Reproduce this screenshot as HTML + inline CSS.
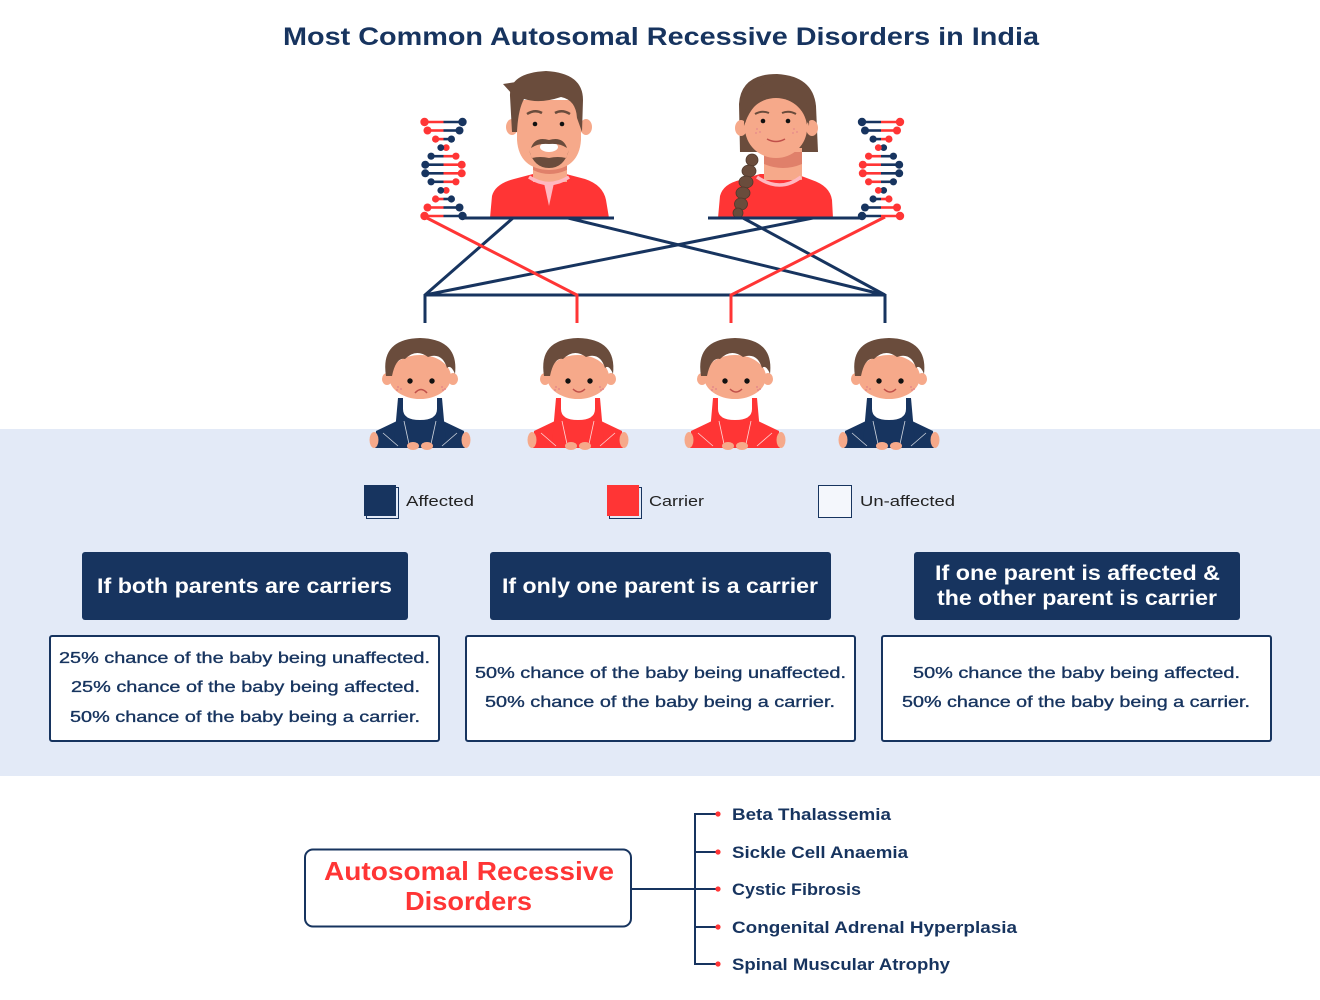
<!DOCTYPE html>
<html><head><meta charset="utf-8"><style>
html,body{margin:0;padding:0;background:#fff;}
svg{display:block;}
text{font-family:"Liberation Sans",sans-serif;}
</style></head><body>
<svg width="1320" height="1000" viewBox="0 0 1320 1000" xmlns="http://www.w3.org/2000/svg">
<defs>
<g id="babybody">
  <path d="M399,420 L376,431 L375,448 L465,448 L464,431 L441,420 Z" fill="currentColor"/>
  <path d="M398,398 L442,398 L446,443 L394,443 Z" fill="currentColor"/>
  <path d="M403,398 L437,398 L437,409 Q437,420 420,420 Q403,420 403,409 Z" fill="#fff"/>
  <path d="M404,421 L409,444 M436,421 L431,444 M383,433 L398,446 M457,433 L442,446" stroke="#fff" stroke-width="0.8" fill="none" opacity="0.8"/>
  <ellipse cx="374" cy="440" rx="4.5" ry="8" fill="#f6a98a"/>
  <ellipse cx="466" cy="440" rx="4.5" ry="8" fill="#f6a98a"/>
  <ellipse cx="413" cy="446" rx="6" ry="4" fill="#f6a98a"/>
  <ellipse cx="427" cy="446" rx="6" ry="4" fill="#f6a98a"/>
  <ellipse cx="387" cy="379" rx="5" ry="6" fill="#f6a98a"/>
  <ellipse cx="453" cy="379" rx="5" ry="6" fill="#f6a98a"/>
  <ellipse cx="420" cy="377" rx="31" ry="22" fill="#f6a98a"/>
  <path d="M386,376 Q380,339 420,338 Q459,339 455,374 Q451,364 447,368 Q442,352 428,357 Q416,348 405,359 Q396,357 392,376 Z" fill="#6a4c3c"/>
  <circle cx="410" cy="381" r="2.7" fill="#111"/>
  <circle cx="432" cy="381" r="2.7" fill="#111"/>
  <circle cx="398" cy="387" r="1" fill="#e58a8a"/><circle cx="401" cy="389" r="1" fill="#e58a8a"/><circle cx="397" cy="390" r="1" fill="#e58a8a"/>
  <circle cx="442" cy="387" r="1" fill="#e58a8a"/><circle cx="445" cy="389" r="1" fill="#e58a8a"/><circle cx="443" cy="390" r="1" fill="#e58a8a"/>
</g>
</defs>

<!-- band -->
<rect x="0" y="429" width="1320" height="347" fill="#e3eaf7"/>

<!-- title -->
<text x="283" y="45" font-size="25" font-weight="bold" fill="#17345f" textLength="756" lengthAdjust="spacingAndGlyphs">Most Common Autosomal Recessive Disorders in India</text>

<!-- connecting lines -->
<g stroke-width="3" fill="none">
  <line x1="513" y1="218" x2="425" y2="295" stroke="#17345f"/>
  <line x1="568" y1="218" x2="885" y2="295" stroke="#17345f"/>
  <line x1="813" y1="218" x2="425" y2="295" stroke="#17345f"/>
  <line x1="743" y1="218" x2="885" y2="295" stroke="#17345f"/>
  <line x1="425" y1="295" x2="885" y2="295" stroke="#17345f"/>
  <line x1="425" y1="294" x2="425" y2="323" stroke="#17345f"/>
  <line x1="885" y1="294" x2="885" y2="323" stroke="#17345f"/>
  <polyline points="425,217 577,295 577,323" stroke="#ff3535"/>
  <polyline points="885,217 731,295 731,323" stroke="#ff3535"/>
</g>

<!-- father -->
<g>
  <path d="M490,218 L492,196 Q495,184 514,179 L533,174 L566,174 L585,179 Q603,185 606,200 L609,218 Z" fill="#ff3535"/>
  <rect x="533" y="155" width="34" height="27" fill="#f6a98a"/>
  <path d="M533,160 L567,160 L567,170 Q549,178 533,170 Z" fill="#e0806a"/>
  <path d="M529,177 Q549,190 569,177" stroke="#ffb8c0" stroke-width="3.5" fill="none"/>
  <path d="M544,183 L549,206 L554,183 Z" fill="#ffb8c0"/>
  <ellipse cx="512" cy="127" rx="6" ry="8" fill="#f6a98a"/>
  <ellipse cx="586" cy="127" rx="6" ry="8" fill="#f6a98a"/>
  <path d="M517,100 L581,100 L581,140 Q579,169 549,170 Q519,169 517,140 Z" fill="#f6a98a"/>
  <path d="M512,132 L510,96 Q509,73 546,71 Q583,73 583,100 L582,132 L577,118 Q576,100 561,97 Q540,104 524,99 Q518,110 517,132 Z" fill="#6a4c3c"/>
  <path d="M512,94 L503,84 L516,82 Z" fill="#6a4c3c"/>
  <path d="M527,114 Q535,109 542,113" stroke="#6a4c3c" stroke-width="2.5" fill="none"/>
  <path d="M555,113 Q562,109 570,114" stroke="#6a4c3c" stroke-width="2.5" fill="none"/>
  <circle cx="535" cy="124" r="2.3" fill="#111"/>
  <circle cx="562" cy="124" r="2.3" fill="#111"/>
  <ellipse cx="549" cy="147" rx="9" ry="5" fill="#fff"/>
  <path d="M531,148 Q535,136 549,140 Q563,136 567,148 Q560,143 549,144 Q538,143 531,148 Z" fill="#6a4c3c"/>
  <path d="M529,150 Q534,168 549,168 Q564,168 569,150 L566,158 Q558,156 549,158 Q540,156 532,158 Z" fill="#6a4c3c"/>
</g>

<!-- mother -->
<g>
  <path d="M718,218 L720,196 Q723,184 740,180 L760,174 L796,174 L812,180 Q830,186 832,200 L833,218 Z" fill="#ff3535"/>
  <path d="M740,152 L739,104 Q741,74 777,74 Q813,76 816,106 L818,152 Z" fill="#6a4c3c"/>
  <rect x="764" y="148" width="38" height="32" fill="#f6a98a"/>
  <path d="M764,152 L802,152 L802,164 Q783,172 764,164 Z" fill="#e0806a"/>
  <path d="M757,177 Q780,193 801,177" stroke="#ffb8c0" stroke-width="3.5" fill="none"/>
  <ellipse cx="741" cy="128" rx="6" ry="8" fill="#f6a98a"/>
  <ellipse cx="812" cy="128" rx="6" ry="8" fill="#f6a98a"/>
  <ellipse cx="776" cy="128" rx="31" ry="30" fill="#f6a98a"/>
  <path d="M744,126 Q743,86 777,80 Q811,86 809,126 Q804,102 779,95 Q776,92 774,95 Q752,100 744,126 Z" fill="#6a4c3c"/>
  <path d="M755,114 Q762,110 769,113" stroke="#6a4c3c" stroke-width="2" fill="none"/>
  <path d="M782,113 Q789,110 796,114" stroke="#6a4c3c" stroke-width="2" fill="none"/>
  <circle cx="763" cy="121" r="2.3" fill="#111"/>
  <circle cx="788" cy="121" r="2.3" fill="#111"/>
  <path d="M767,139 Q776,144 785,139" stroke="#c0504a" stroke-width="1.5" fill="none"/>
  <g fill="#e58a8a"><circle cx="757" cy="129" r="0.9"/><circle cx="760" cy="132" r="0.9"/><circle cx="756" cy="133" r="0.9"/><circle cx="794" cy="129" r="0.9"/><circle cx="797" cy="132" r="0.9"/><circle cx="793" cy="133" r="0.9"/></g>
  <g fill="#6a4c3c" stroke="#4e372b" stroke-width="0.8">
    <ellipse cx="752" cy="160" rx="6" ry="6"/>
    <ellipse cx="749" cy="171" rx="7" ry="6"/>
    <ellipse cx="746" cy="182" rx="7" ry="6"/>
    <ellipse cx="743" cy="193" rx="7" ry="6"/>
    <ellipse cx="741" cy="204" rx="6.5" ry="6"/>
    <ellipse cx="738" cy="213" rx="5" ry="5"/>
  </g>
</g>

<!-- parent bars -->
<line x1="462" y1="218" x2="614" y2="218" stroke="#17345f" stroke-width="3"/>
<line x1="708" y1="218" x2="864" y2="218" stroke="#17345f" stroke-width="3"/>

<!-- left DNA -->
<g stroke-width="2.6">
  <line x1="424.5" y1="122" x2="443.5" y2="122" stroke="#ff3535"/><line x1="443.5" y1="122" x2="462.5" y2="122" stroke="#17345f"/>
  <line x1="427.5" y1="130.5" x2="443.5" y2="130.5" stroke="#ff3535"/><line x1="443.5" y1="130.5" x2="459.5" y2="130.5" stroke="#17345f"/>
  <line x1="435.6" y1="139.1" x2="443.5" y2="139.1" stroke="#ff3535"/><line x1="443.5" y1="139.1" x2="451.4" y2="139.1" stroke="#17345f"/>
  <line x1="446.2" y1="147.6" x2="440.8" y2="147.6" stroke="#ff3535"/>
  <line x1="455.9" y1="156.2" x2="443.5" y2="156.2" stroke="#ff3535"/><line x1="443.5" y1="156.2" x2="431.1" y2="156.2" stroke="#17345f"/>
  <line x1="461.7" y1="164.7" x2="443.5" y2="164.7" stroke="#ff3535"/><line x1="443.5" y1="164.7" x2="425.3" y2="164.7" stroke="#17345f"/>
  <line x1="461.7" y1="173.3" x2="443.5" y2="173.3" stroke="#ff3535"/><line x1="443.5" y1="173.3" x2="425.3" y2="173.3" stroke="#17345f"/>
  <line x1="455.9" y1="181.8" x2="443.5" y2="181.8" stroke="#ff3535"/><line x1="443.5" y1="181.8" x2="431.1" y2="181.8" stroke="#17345f"/>
  <line x1="446.2" y1="190.4" x2="440.8" y2="190.4" stroke="#17345f"/>
  <line x1="435.6" y1="199" x2="443.5" y2="199" stroke="#ff3535"/><line x1="443.5" y1="199" x2="451.4" y2="199" stroke="#17345f"/>
  <line x1="427.5" y1="207.5" x2="443.5" y2="207.5" stroke="#ff3535"/><line x1="443.5" y1="207.5" x2="459.5" y2="207.5" stroke="#17345f"/>
  <line x1="424.5" y1="216" x2="443.5" y2="216" stroke="#ff3535"/><line x1="443.5" y1="216" x2="462.5" y2="216" stroke="#17345f"/>
</g>
<g fill="#ff3535">
  <circle cx="424.5" cy="122" r="4.2"/><circle cx="427.5" cy="130.5" r="4"/><circle cx="435.6" cy="139.1" r="3.6"/><circle cx="446.2" cy="147.6" r="3.4"/><circle cx="455.9" cy="156.2" r="3.6"/><circle cx="461.7" cy="164.7" r="4"/><circle cx="461.7" cy="173.3" r="4"/><circle cx="455.9" cy="181.8" r="3.6"/><circle cx="446.2" cy="190.4" r="3.4"/><circle cx="435.6" cy="199" r="3.6"/><circle cx="427.5" cy="207.5" r="4"/><circle cx="424.5" cy="216" r="4.2"/>
</g>
<g fill="#17345f">
  <circle cx="462.5" cy="122" r="4.2"/><circle cx="459.5" cy="130.5" r="4"/><circle cx="451.4" cy="139.1" r="3.6"/><circle cx="440.8" cy="147.6" r="3.4"/><circle cx="431.1" cy="156.2" r="3.6"/><circle cx="425.3" cy="164.7" r="4"/><circle cx="425.3" cy="173.3" r="4"/><circle cx="431.1" cy="181.8" r="3.6"/><circle cx="440.8" cy="190.4" r="3.4"/><circle cx="451.4" cy="199" r="3.6"/><circle cx="459.5" cy="207.5" r="4"/><circle cx="462.5" cy="216" r="4.2"/>
</g>

<!-- right DNA -->
<g stroke-width="2.6">
  <line x1="862" y1="122" x2="881" y2="122" stroke="#17345f"/><line x1="881" y1="122" x2="900" y2="122" stroke="#ff3535"/>
  <line x1="865" y1="130.5" x2="881" y2="130.5" stroke="#17345f"/><line x1="881" y1="130.5" x2="897" y2="130.5" stroke="#ff3535"/>
  <line x1="873.1" y1="139.1" x2="881" y2="139.1" stroke="#17345f"/><line x1="881" y1="139.1" x2="888.9" y2="139.1" stroke="#ff3535"/>
  <line x1="883.7" y1="147.6" x2="878.3" y2="147.6" stroke="#17345f"/>
  <line x1="893.4" y1="156.2" x2="881" y2="156.2" stroke="#17345f"/><line x1="881" y1="156.2" x2="868.6" y2="156.2" stroke="#ff3535"/>
  <line x1="899.2" y1="164.7" x2="881" y2="164.7" stroke="#17345f"/><line x1="881" y1="164.7" x2="862.8" y2="164.7" stroke="#ff3535"/>
  <line x1="899.2" y1="173.3" x2="881" y2="173.3" stroke="#17345f"/><line x1="881" y1="173.3" x2="862.8" y2="173.3" stroke="#ff3535"/>
  <line x1="893.4" y1="181.8" x2="881" y2="181.8" stroke="#17345f"/><line x1="881" y1="181.8" x2="868.6" y2="181.8" stroke="#ff3535"/>
  <line x1="883.7" y1="190.4" x2="878.3" y2="190.4" stroke="#ff3535"/>
  <line x1="873.1" y1="199" x2="881" y2="199" stroke="#17345f"/><line x1="881" y1="199" x2="888.9" y2="199" stroke="#ff3535"/>
  <line x1="865" y1="207.5" x2="881" y2="207.5" stroke="#17345f"/><line x1="881" y1="207.5" x2="897" y2="207.5" stroke="#ff3535"/>
  <line x1="862" y1="216" x2="881" y2="216" stroke="#17345f"/><line x1="881" y1="216" x2="900" y2="216" stroke="#ff3535"/>
</g>
<g fill="#17345f">
  <circle cx="862" cy="122" r="4.2"/><circle cx="865" cy="130.5" r="4"/><circle cx="873.1" cy="139.1" r="3.6"/><circle cx="883.7" cy="147.6" r="3.4"/><circle cx="893.4" cy="156.2" r="3.6"/><circle cx="899.2" cy="164.7" r="4"/><circle cx="899.2" cy="173.3" r="4"/><circle cx="893.4" cy="181.8" r="3.6"/><circle cx="883.7" cy="190.4" r="3.4"/><circle cx="873.1" cy="199" r="3.6"/><circle cx="865" cy="207.5" r="4"/><circle cx="862" cy="216" r="4.2"/>
</g>
<g fill="#ff3535">
  <circle cx="900" cy="122" r="4.2"/><circle cx="897" cy="130.5" r="4"/><circle cx="888.9" cy="139.1" r="3.6"/><circle cx="878.3" cy="147.6" r="3.4"/><circle cx="868.6" cy="156.2" r="3.6"/><circle cx="862.8" cy="164.7" r="4"/><circle cx="862.8" cy="173.3" r="4"/><circle cx="868.6" cy="181.8" r="3.6"/><circle cx="878.3" cy="190.4" r="3.4"/><circle cx="888.9" cy="199" r="3.6"/><circle cx="897" cy="207.5" r="4"/><circle cx="900" cy="216" r="4.2"/>
</g>

<!-- babies -->
<use href="#babybody" x="0" y="0" style="color:#17345f"/>
<path d="M415,393 Q421,386 427,393" stroke="#c0504a" stroke-width="1.5" fill="none"/>
<use href="#babybody" x="158" y="0" style="color:#ff3535"/>
<path d="M573,389 Q579,395 585,389" stroke="#c0504a" stroke-width="1.5" fill="none"/>
<use href="#babybody" x="315" y="0" style="color:#ff3535"/>
<path d="M730,389 Q736,395 742,389" stroke="#c0504a" stroke-width="1.5" fill="none"/>
<use href="#babybody" x="469" y="0" style="color:#17345f"/>
<path d="M884,389 Q890,395 896,389" stroke="#c0504a" stroke-width="1.5" fill="none"/>

<!-- legend -->
<rect x="366.5" y="487.5" width="32" height="31" fill="none" stroke="#17345f" stroke-width="1"/>
<rect x="364" y="485" width="32" height="31" fill="#17345f"/>
<text x="406" y="506" font-size="15" fill="#222" textLength="68" lengthAdjust="spacingAndGlyphs">Affected</text>
<rect x="609.5" y="487.5" width="32" height="31" fill="none" stroke="#17345f" stroke-width="1"/>
<rect x="607" y="485" width="32" height="31" fill="#ff3535"/>
<text x="649" y="506" font-size="15" fill="#222" textLength="55" lengthAdjust="spacingAndGlyphs">Carrier</text>
<rect x="818.5" y="485.5" width="33" height="32" fill="#f4f7fc" stroke="#17345f" stroke-width="1"/>
<text x="860" y="506" font-size="15" fill="#222" textLength="95" lengthAdjust="spacingAndGlyphs">Un-affected</text>

<!-- header boxes -->
<rect x="82" y="552" width="326" height="68" rx="3" fill="#17345f"/>
<text x="97" y="593" font-size="21" font-weight="bold" fill="#fff" textLength="295" lengthAdjust="spacingAndGlyphs">If both parents are carriers</text>
<rect x="490" y="552" width="341" height="68" rx="3" fill="#17345f"/>
<text x="502" y="593" font-size="21" font-weight="bold" fill="#fff" textLength="316" lengthAdjust="spacingAndGlyphs">If only one parent is a carrier</text>
<rect x="914" y="552" width="326" height="68" rx="3" fill="#17345f"/>
<text x="935" y="580" font-size="21" font-weight="bold" fill="#fff" textLength="285" lengthAdjust="spacingAndGlyphs">If one parent is affected &amp;</text>
<text x="937" y="605" font-size="21" font-weight="bold" fill="#fff" textLength="280" lengthAdjust="spacingAndGlyphs">the other parent is carrier</text>

<!-- body boxes -->
<g fill="#fff" stroke="#17345f" stroke-width="2">
  <rect x="50" y="636" width="389" height="105" rx="2"/>
  <rect x="466" y="636" width="389" height="105" rx="2"/>
  <rect x="882" y="636" width="389" height="105" rx="2"/>
</g>
<g font-size="16" fill="#17345f" stroke="#17345f" stroke-width="0.35">
  <text x="59" y="663" textLength="371" lengthAdjust="spacingAndGlyphs">25% chance of the baby being unaffected.</text>
  <text x="71" y="692" textLength="349" lengthAdjust="spacingAndGlyphs">25% chance of the baby being affected.</text>
  <text x="70" y="722" textLength="350" lengthAdjust="spacingAndGlyphs">50% chance of the baby being a carrier.</text>
  <text x="475" y="678" textLength="371" lengthAdjust="spacingAndGlyphs">50% chance of the baby being unaffected.</text>
  <text x="485" y="707" textLength="350" lengthAdjust="spacingAndGlyphs">50% chance of the baby being a carrier.</text>
  <text x="913" y="678" textLength="327" lengthAdjust="spacingAndGlyphs">50% chance the baby being affected.</text>
  <text x="902" y="707" textLength="348" lengthAdjust="spacingAndGlyphs">50% chance of the baby being a carrier.</text>
</g>

<!-- bottom tree -->
<rect x="305" y="849.5" width="326" height="77" rx="8" fill="#fff" stroke="#17345f" stroke-width="2"/>
<text x="324" y="880" font-size="26" font-weight="bold" fill="#ff3535" textLength="290" lengthAdjust="spacingAndGlyphs">Autosomal Recessive</text>
<text x="405" y="910" font-size="26" font-weight="bold" fill="#ff3535" textLength="127" lengthAdjust="spacingAndGlyphs">Disorders</text>
<g stroke="#17345f" stroke-width="2" fill="none">
  <line x1="631" y1="889" x2="695" y2="889"/>
  <polyline points="716,814 695,814 695,964 716,964"/>
  <line x1="695" y1="852" x2="716" y2="852"/>
  <line x1="695" y1="889" x2="716" y2="889"/>
  <line x1="695" y1="927" x2="716" y2="927"/>
</g>
<g fill="#ff3535">
  <circle cx="718" cy="814" r="2.6"/><circle cx="718" cy="852" r="2.6"/><circle cx="718" cy="889" r="2.6"/><circle cx="718" cy="927" r="2.6"/><circle cx="718" cy="964" r="2.6"/>
</g>
<g font-size="17" font-weight="bold" fill="#17345f">
  <text x="732" y="820" textLength="159" lengthAdjust="spacingAndGlyphs">Beta Thalassemia</text>
  <text x="732" y="858" textLength="176" lengthAdjust="spacingAndGlyphs">Sickle Cell Anaemia</text>
  <text x="732" y="895" textLength="129" lengthAdjust="spacingAndGlyphs">Cystic Fibrosis</text>
  <text x="732" y="933" textLength="285" lengthAdjust="spacingAndGlyphs">Congenital Adrenal Hyperplasia</text>
  <text x="732" y="970" textLength="218" lengthAdjust="spacingAndGlyphs">Spinal Muscular Atrophy</text>
</g>
</svg>
</body></html>
